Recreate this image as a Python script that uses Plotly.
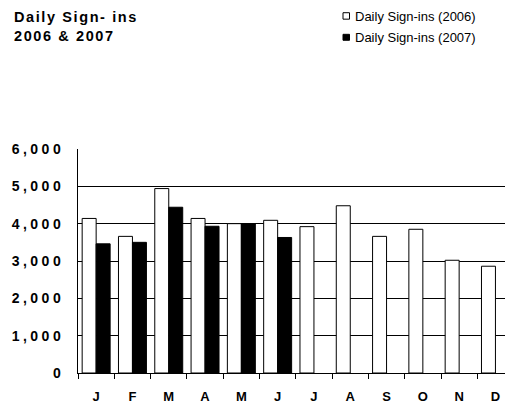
import plotly.graph_objects as go

# ---- data ----
months = ["J", "F", "M", "A", "M", "J", "J", "A", "S", "O", "N", "D"]
signins_2006 = [4140, 3660, 4940, 4140, 4000, 4090, 3920, 4480, 3660, 3850, 3020, 2860]
signins_2007 = [3460, 3500, 4440, 3930, 4000, 3630, None, None, None, None, None, None]
series_names = ["Daily Sign-ins (2006)", "Daily Sign-ins (2007)"]
y_ticks = [0, 1000, 2000, 3000, 4000, 5000, 6000]
title_text = "Daily Sign- ins<br>2006 & 2007"

# ---- layout geometry (pixels) ----
W, H = 505, 404
L, T, B, R = 78, 149, 29, 0
PW, PH = W - L - R, H - T - B
CAT_PX = 36.3  # width of one month slot


def px_x(x):
    return (x - L) / PW


def px_y(y):
    return (H - B - y) / PH


xpos = list(range(len(months)))

fig = go.Figure()
fig.add_trace(go.Bar(
    x=xpos, y=signins_2006, name=series_names[0],
    marker=dict(color="white", line=dict(color="black", width=1)),
    showlegend=False,
))
fig.add_trace(go.Bar(
    x=xpos, y=signins_2007, name=series_names[1],
    marker=dict(color="black", line=dict(color="black", width=1)),
    showlegend=False,
))

x_end = -0.5 + PW / CAT_PX

fig.update_layout(
    width=W, height=H,
    margin=dict(l=L, r=R, t=T, b=B, pad=0),
    paper_bgcolor="white", plot_bgcolor="white",
    barmode="group", bargap=0.23, bargroupgap=0,
    font=dict(family="Liberation Sans, Arial, sans-serif", color="black"),
    xaxis=dict(
        range=[-0.5, x_end],
        tickmode="array", tickvals=xpos, ticktext=months,
        ticks="", showgrid=False, zeroline=False,
        showline=True, linecolor="black", linewidth=1,
        tickfont=dict(size=13, weight="bold"),
        ticklabelstandoff=11,
        minor=dict(ticks="outside", tick0=-0.5, dtick=1, ticklen=5,
                   tickcolor="black", tickwidth=1, showgrid=False),
    ),
    yaxis=dict(
        range=[0, 6000],
        tickmode="array", tickvals=y_ticks, tickformat=",",
        ticks="", showgrid=True, gridcolor="black", gridwidth=1,
        zeroline=False, showline=True, linecolor="black", linewidth=1,
        tickfont=dict(size=14, weight="bold"),
        ticklabelstandoff=10,
    ),
)

# title as a left-aligned annotation
fig.add_annotation(xref="paper", yref="paper", x=px_x(12), y=px_y(6),
                   xanchor="left", yanchor="top", align="left",
                   text=title_text, showarrow=False,
                   font=dict(size=14.5, weight="bold", color="black"),
                   name="title")

# manual legend (small squares + labels)
legend_rows = [(11.5, 18.0), (33.3, 39.3)]
fills = ["white", "black"]
for (y0, y1), fill, name in zip(legend_rows, fills, series_names):
    fig.add_shape(type="rect", xref="paper", yref="paper",
                  x0=px_x(343), x1=px_x(349.5), y0=px_y(y1), y1=px_y(y0),
                  line=dict(color="black", width=1), fillcolor=fill)
    fig.add_annotation(xref="paper", yref="paper", x=px_x(353), y=px_y((y0 + y1) / 2 + 0.5),
                       xanchor="left", yanchor="middle", align="left",
                       text=name, showarrow=False,
                       font=dict(size=13, color="black"))

post = """
document.body.style.margin='0';
document.documentElement.style.margin='0';
var s=document.createElement('style');
s.textContent='.ytick text{letter-spacing:3.5px} .annotation[data-index=\"0\"] .annotation-text{letter-spacing:1.6px}';
document.head.appendChild(s);
"""

fig.write_html("out.html", post_script=post, config={"displayModeBar": False})
